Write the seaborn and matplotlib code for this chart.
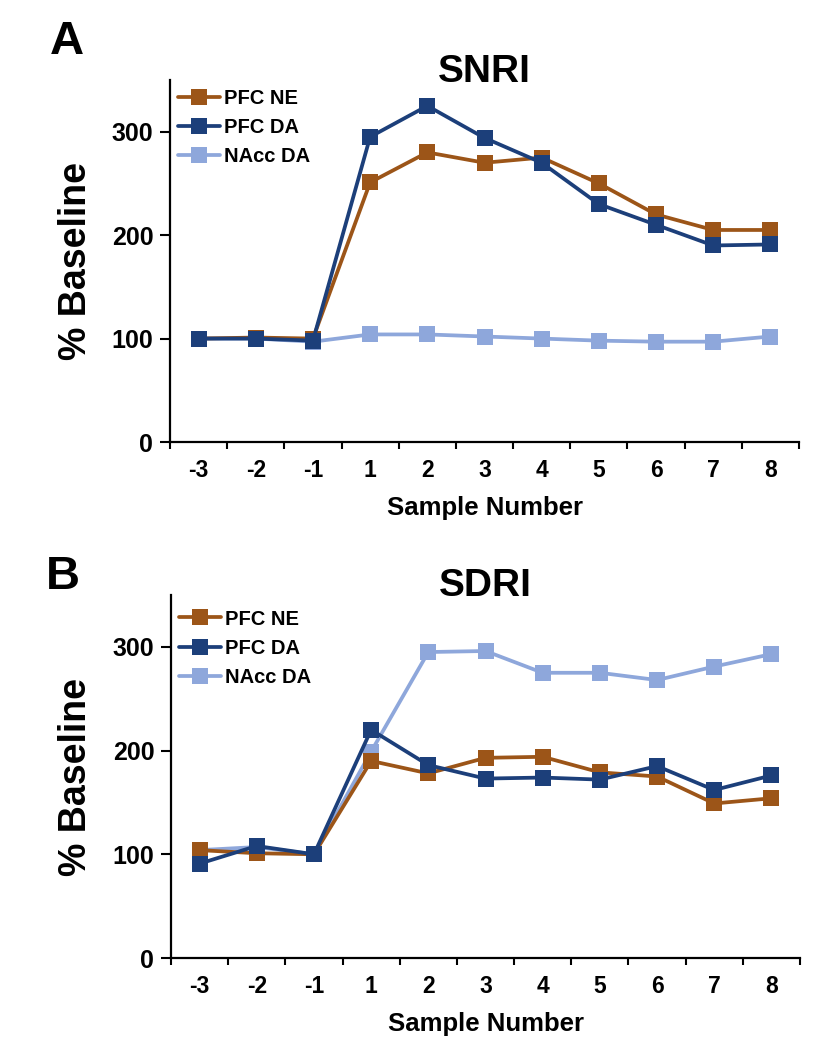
import numpy as np
import pandas as pd
import matplotlib
matplotlib.use("Agg")
import matplotlib.pyplot as plt
import seaborn as sns

samples = ["-3", "-2", "-1", "1", "2", "3", "4", "5", "6", "7", "8"]
series_names = ["NAcc DA", "PFC NE", "PFC DA"]
legend_order = ["PFC NE", "PFC DA", "NAcc DA"]

# panel A - SNRI
snri_ne = [100, 101, 100, 251, 280, 270, 275, 250, 220, 205, 205]
snri_da = [100, 100, 98, 295, 325, 294, 270, 230, 210, 190, 191]
snri_nacc = [100, 100, 97, 104, 104, 102, 100, 98, 97, 97, 102]

# panel B - SDRI
sdri_ne = [104, 101, 100, 190, 178, 193, 194, 179, 175, 149, 154]
sdri_da = [91, 108, 100, 220, 186, 173, 174, 172, 185, 162, 176]
sdri_nacc = [104, 107, 100, 199, 295, 296, 275, 275, 268, 281, 293]

colors = {"PFC NE": "#9C5518", "PFC DA": "#1C3F7A", "NAcc DA": "#8EA7DB"}

sns.set_style("white")
plt.rcParams["font.family"] = ["Liberation Sans", "DejaVu Sans"]
plt.rcParams["font.weight"] = "bold"
plt.rcParams["text.color"] = "black"
plt.rcParams["xtick.color"] = "black"
plt.rcParams["ytick.color"] = "black"
plt.rcParams["axes.labelcolor"] = "black"


def make_df(ne, da, nacc):
    rows = []
    for name, vals in zip(["PFC NE", "PFC DA", "NAcc DA"], [ne, da, nacc]):
        for i, v in enumerate(vals):
            rows.append({"pos": i, "value": v, "series": name})
    return pd.DataFrame(rows)


fig = plt.figure(figsize=(8.22, 10.5), dpi=100)
W, H = 822, 1050


def panel(rect, df, title, letter, letter_xy, title_base, legend_y):
    ax = fig.add_axes(rect)
    for name in series_names:
        sub = df[df.series == name]
        sns.lineplot(data=sub, x="pos", y="value", color=colors[name], ax=ax,
                     marker="s", markersize=11, markeredgewidth=0,
                     linewidth=2.7, label=name)
    ax.set_xlim(-0.5, 10.5)
    ax.set_ylim(0, 350)
    ax.set_yticks([0, 100, 200, 300])
    ax.set_yticklabels(["0", "100", "200", "300"], fontsize=18, fontweight="bold")
    ax.set_xticks(np.arange(-0.5, 11, 1))
    ax.set_xticklabels([])
    ax.set_xticks(np.arange(0, 11), minor=True)
    ax.set_xticklabels(samples, minor=True, fontsize=16.5, fontweight="bold")
    ax.tick_params(axis="x", which="major", length=5, width=1.5, direction="out", bottom=True)
    ax.tick_params(axis="x", which="minor", length=0, pad=12, bottom=True)
    ax.tick_params(axis="y", length=7, width=1.5, direction="out", left=True, pad=5)
    ax.set_xlabel("")
    ax.set_ylabel("")
    sns.despine(ax=ax)
    for s in ["left", "bottom"]:
        ax.spines[s].set_linewidth(1.6)
        ax.spines[s].set_color("black")

    handles, labels = ax.get_legend_handles_labels()
    hmap = dict(zip(labels, handles))
    ax.legend([hmap[n] for n in legend_order], legend_order, loc="upper left",
              bbox_to_anchor=(0.012, legend_y), frameon=False,
              prop={"size": 14.5, "weight": "bold"}, handlelength=2.1,
              handletextpad=0.2, labelspacing=0.5, borderpad=0, borderaxespad=0)

    cx = (rect[0] + rect[2] / 2)
    fig.text(cx, 1 - title_base / H, title, ha="center", va="baseline",
             fontsize=28, fontweight="bold")
    fig.text(letter_xy[0] / W, 1 - letter_xy[1] / H, letter, ha="center", va="center",
             fontsize=34, fontweight="bold")
    ymid = rect[1] + rect[3] / 2
    fig.text(76 / W, ymid, "% Baseline", rotation=90, ha="center", va="center",
             fontsize=27, fontweight="bold")
    fig.text(cx, rect[1] - 73 / H, "Sample Number", ha="center", va="baseline",
             fontsize=18.5, fontweight="bold")
    return ax


dfA = make_df(snri_ne, snri_da, snri_nacc)
dfB = make_df(sdri_ne, sdri_da, sdri_nacc)

panel([170 / W, 1 - 442 / H, 629 / W, 362 / H], dfA, "SNRI", "A", (67, 42), 82, 0.975)
panel([171 / W, 1 - 958 / H, 629 / W, 363 / H], dfB, "SDRI", "B", (63, 577), 596, 0.96)

fig.savefig("out.png", dpi=100)
